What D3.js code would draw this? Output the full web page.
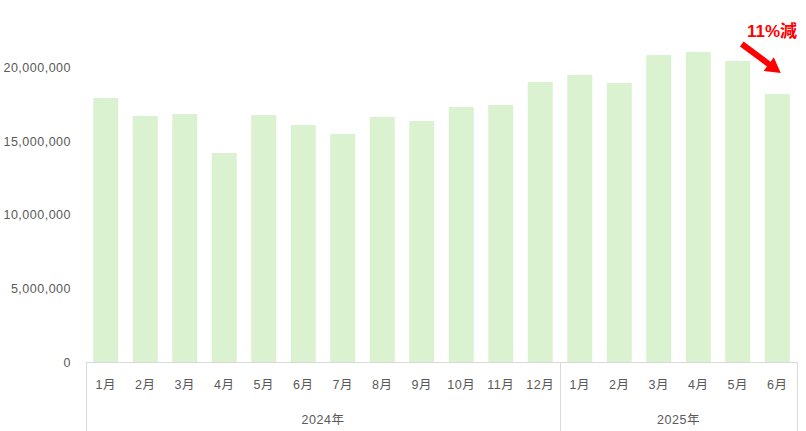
<!DOCTYPE html>
<html>
<head>
<meta charset="utf-8">
<script src="https://cdn.jsdelivr.net/npm/d3@7"></script>
<style>
  html, body { margin: 0; padding: 0; background: #fff; }
  svg { display: block; }
  text { font-family: "Liberation Sans", Arial, "Noto Sans CJK JP", sans-serif; }
</style>
</head>
<body>
<svg id="chart" width="806" height="431"></svg>
<script>
// ---- data ----
const months = ["1月","2月","3月","4月","5月","6月","7月","8月","9月","10月","11月","12月","1月","2月","3月","4月","5月","6月"];
const years = ["2024年","2025年"];
const yearCounts = [12, 6];
const values = [17910000,16690000,16820000,14180000,16760000,16080000,15470000,16620000,16350000,17300000,17440000,19000000,19470000,18930000,20830000,21030000,20420000,18180000];
const yTicks = [0,5000000,10000000,15000000,20000000];
const annotation = "11%減";

// ---- layout ----
const W = 806, H = 431;
const left = 86, right = 797, baseY = 362, topY = 67.2;
const svg = d3.select("#chart");

const keys = months.map((m, i) => i);
const x = d3.scaleBand().domain(keys).range([left, right]).paddingInner(0.367).paddingOuter(0.183);
const y = d3.scaleLinear().domain([0, 20000000]).range([baseY, topY]);

// bars
svg.append("g").selectAll("rect").data(values).join("rect")
  .attr("x", (d, i) => x(i))
  .attr("width", x.bandwidth())
  .attr("y", d => y(d))
  .attr("height", d => y(0) - y(d))
  .attr("fill", "#daf2d0");

// y axis labels
const yAxis = d3.axisLeft(y).tickValues(yTicks).tickSize(0).tickPadding(0)
  .tickFormat(d3.format(","));
const yg = svg.append("g").attr("transform", `translate(71,0)`).call(yAxis);
yg.select(".domain").remove();
yg.selectAll("text").attr("fill", "#595959").style("font-size", "12.5px").style("letter-spacing", "0.5px")
  .attr("dy", "0.35em");

// x axis line
const gridColor = "#d9d9d9";
svg.append("line").attr("x1", left).attr("x2", right).attr("y1", baseY + 0.5).attr("y2", baseY + 0.5)
  .attr("stroke", gridColor).attr("stroke-width", 1);

// month labels
const xAxis = d3.axisBottom(x).tickSize(0).tickPadding(0).tickFormat(i => months[i]);
const xg = svg.append("g").attr("transform", `translate(0,${baseY})`).call(xAxis);
xg.select(".domain").remove();
xg.selectAll("text").attr("fill", "#595959").style("font-size", "12.5px").style("letter-spacing", "0.5px")
  .attr("y", 23).attr("dy", "0.35em");

// year group separators and labels
let start = 0;
const bounds = [left];
yearCounts.forEach((c) => {
  const endIdx = start + c - 1;
  const xEnd = x(endIdx) + x.bandwidth() + x.step() * x.paddingInner() / 2;
  bounds.push(Math.min(xEnd, right));
  start += c;
});
bounds[bounds.length - 1] = right;
bounds.forEach(bx => {
  svg.append("line").attr("x1", Math.round(bx) + 0.5).attr("x2", Math.round(bx) + 0.5)
    .attr("y1", baseY).attr("y2", H).attr("stroke", gridColor).attr("stroke-width", 1);
});
years.forEach((yr, i) => {
  svg.append("text").attr("x", (bounds[i] + bounds[i + 1]) / 2).attr("y", 420).attr("dy", "0.35em")
    .attr("text-anchor", "middle").attr("fill", "#595959").style("font-size", "12.5px").style("letter-spacing", "0.5px")
    .text(yr);
});

// annotation arrow
const lastI = values.length - 1;
const tipX = x(lastI) + x.bandwidth() / 2 + 3.5;
const tipY = y(values[lastI]) - 21;
const sx = tipX - 39, sy = tipY - 29;
const ang = Math.atan2(tipY - sy, tipX - sx);
const len = Math.hypot(tipX - sx, tipY - sy);
const headL = 15, headW = 8.5, shaftW = 3;
const pts = [
  [0, -shaftW], [len - headL, -shaftW], [len - headL, -headW], [len, 0],
  [len - headL, headW], [len - headL, shaftW], [0, shaftW]
].map(([u, v]) => [sx + u * Math.cos(ang) - v * Math.sin(ang), sy + u * Math.sin(ang) + v * Math.cos(ang)]);
svg.append("path").attr("d", d3.line()(pts) + "Z").attr("fill", "#ff0000");

svg.append("text").attr("x", 747).attr("y", 37).attr("fill", "#ff0000")
  .style("font-size", "17px").style("font-weight", "bold").text(annotation);
</script>
</body>
</html>
